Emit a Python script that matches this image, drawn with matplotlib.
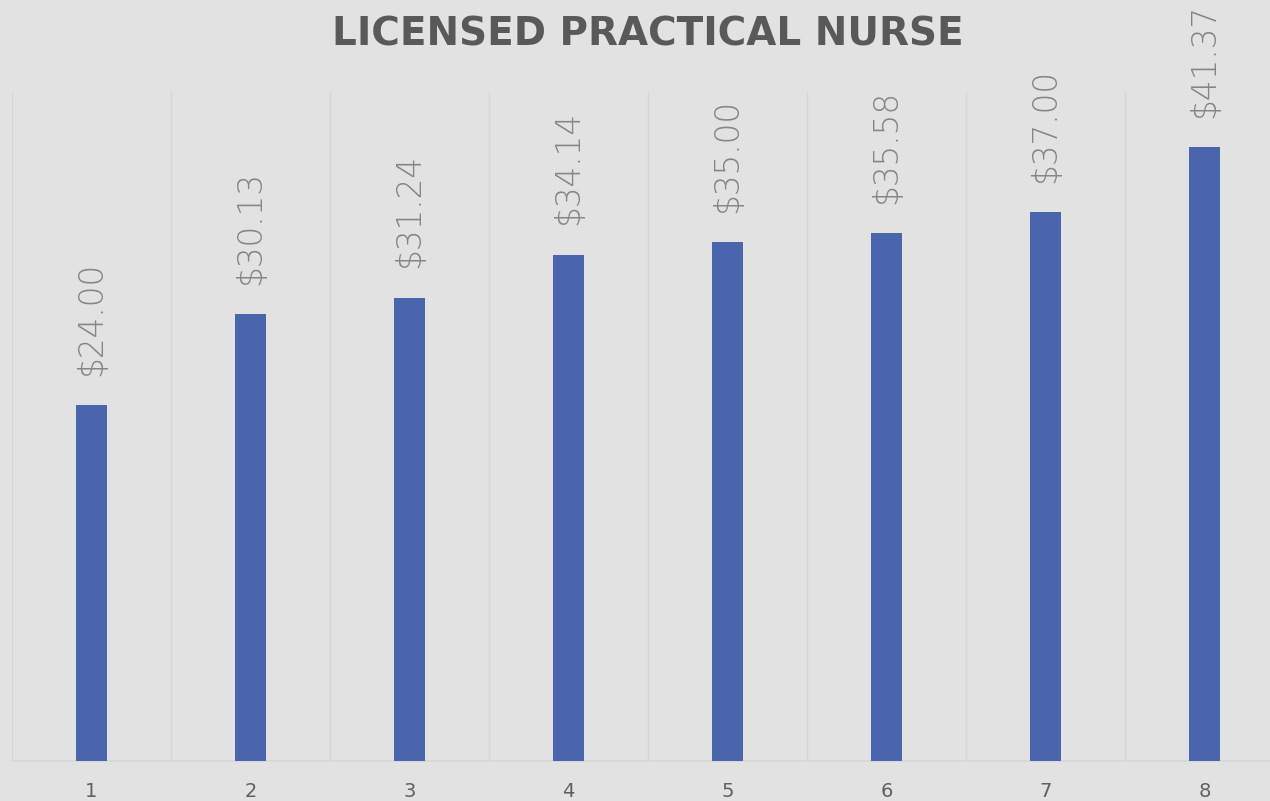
import numpy as np
import matplotlib.pyplot as plt

categories = ['1', '2', '3', '4', '5', '6', '7', '8']
wages = [24.00, 30.13, 31.24, 34.14, 35.00, 35.58, 37.00, 41.37]
labels = ['$24.00', '$30.13', '$31.24', '$34.14', '$35.00', '$35.58', '$37.00', '$41.37']

bg = '#e2e2e2'
grid_c = '#d6d6d6'
bar_c = '#4966ad'

fig = plt.figure(figsize=(12.70, 8.01), dpi=100, facecolor=bg)
ax = fig.add_axes([12 / 1270, 40 / 801, 1272 / 1270, 669 / 801])
ax.set_facecolor(bg)

x = np.arange(1, len(categories) + 1)
ax.bar(x, wages, width=0.19, color=bar_c, zorder=3)

for xi, v, lab in zip(x, wages, labels):
    ax.annotate(lab, (xi, v), xytext=(0, 21), textcoords='offset points',
                rotation=90, ha='center', va='bottom', fontsize=23.5,
                color='#858585', fontweight='light', zorder=4)

ax.set_xlim(0.5, 8.5)
ax.set_ylim(0, 45.1)
ax.set_xticks(x)
ax.set_xticklabels(categories, fontsize=14, color='#606060')
ax.set_xticks(np.arange(0.5, 9, 1), minor=True)
ax.tick_params(axis='x', which='both', length=0, pad=15)
ax.set_yticks([])
ax.grid(axis='x', which='minor', color=grid_c, lw=1, zorder=0)

for s in ['top', 'right', 'left']:
    ax.spines[s].set_visible(False)
ax.spines['bottom'].set_color(grid_c)
ax.spines['bottom'].set_linewidth(1.2)

fig.text(648 / 1270, 1 - 35 / 801, 'LICENSED PRACTICAL NURSE', ha='center', va='center',
         fontsize=28, fontweight='bold', color='#595959')

fig.savefig('out.png', dpi=100, facecolor=bg)
